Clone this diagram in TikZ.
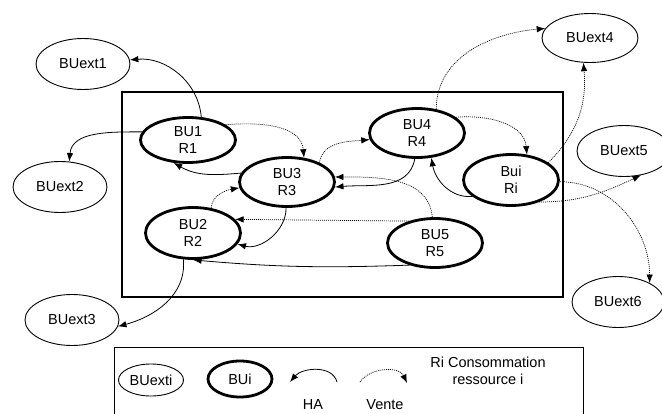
\documentclass[tikz,border=0pt]{standalone}
\usepackage{fontspec}
\setmainfont{Liberation Sans}
\usetikzlibrary{shapes.geometric,arrows.meta}

\begin{document}
\begin{tikzpicture}[x=1pt, y=1pt, >={Latex[length=8.5pt,width=6.5pt]},
        font=\fontsize{14.5}{17}\selectfont,
        bu/.style={ellipse, draw, line width=2.8pt, inner sep=0pt, align=center,
            minimum width=95pt, minimum height=49pt},
        ext/.style={ellipse, draw, line width=0.9pt, inner sep=0pt,
            minimum width=94pt, minimum height=51pt},
        ha/.style={->, line width=0.8pt},
        vente/.style={->, line width=0.7pt, dash pattern=on 1pt off 1pt}]
        \useasboundingbox (0,0) rectangle (662,-413);

        % 外框
        \draw[line width=2.6pt] (122,-92) rectangle (563,-297);

        % 内部 BU
        \node[bu, minimum height=45pt] (BU1) at (188,-140) {BU1\\R1};
        \node[bu] (BU3) at (287,-182) {BU3\\R3};
        \node[bu] (BU4) at (417,-133) {BU4\\R4};
        \node[bu, minimum height=51pt] (BUi) at (511,-180) {Bui\\Ri};
        \node[bu, minimum height=51pt] (BU2) at (193,-233) {BU2\\R2};
        \node[bu] (BU5) at (435,-243) {BU5\\R5};

        % 外部 BU
        \node[ext] (E1) at (83,-64) {BUext1};
        \node[ext] (E2) at (60,-187) {BUext2};
        \node[ext] (E3) at (72,-320) {BUext3};
        \node[ext, minimum width=96pt, minimum height=49pt] (E4) at (590,-38) {BUext4};
        \node[ext] (E5) at (624,-151) {BUext5};
        \node[ext, minimum width=92pt] (E6) at (618,-302) {BUext6};

        % HA
        \draw[ha] (BU1.60) to[out=95, in=5] (E1.5);
        \draw[ha] (BU1.170) to[out=180, in=85] (E2.70);
        \draw[ha] (BU3.169) to[out=185, in=-30] (BU1.238);
        \draw[ha] (BU3.268) to[out=-90, in=-15] (BU2.-14);
        \draw[ha] (BU4.265) to[out=-100, in=5] (BU3.-6);
        \draw[ha] (BUi.203) to[out=185, in=-80] (BU4.-60);
        \draw[ha] (BU5.221) to[out=182, in=-5] (BU2.270);
        \draw[ha] (BU2.250) to[out=-85, in=15] (E3.-8);

        % Vente
        \draw[vente] (BU1.22) to[out=5, in=95] (BU3.55);
        \draw[vente] (BU2.54) to[out=85, in=190] (BU3.187);
        \draw[vente] (BU3.31) to[out=80, in=185] (BU4.188);
        \draw[vente] (BU4.51) to[out=90, in=185] (E4.168);
        \draw[vente] (BU4.22) to[out=5, in=95] (BUi.58);
        \draw[vente] (BUi.25) to[out=45, in=-85] (E4.255);
        \draw[vente] (BUi.-2) to[out=0, in=90] (E6.31);
        \draw[vente] (BUi.-38) to[out=0, in=205] (E5.-55);
        \draw[vente] (BU5.96) to[out=95, in=0] (BU3.6);
        \draw[vente] (BU5.140) -- (BU2.18);

        % 图例
        \draw[line width=0.8pt] (114,-347) rectangle (583,-430);
        \node[ext, minimum width=65pt, minimum height=32pt] (LE) at (151,-380) {BUexti};
        \node[bu, minimum width=64pt, minimum height=36pt] (LB) at (240,-379) {BUi};
        \coordinate (HA1) at (337,-382);
        \coordinate (HA2) at (290,-382);
        \draw[ha] (HA1) to[out=105, in=50] (HA2);
        \node (LHA) at (313,-405) {HA};
        \coordinate (V1) at (360,-382);
        \coordinate (V2) at (407,-383);
        \draw[vente] (V1) to[out=55, in=115] (V2);
        \node (LV) at (385,-405) {Vente};
        \node[align=center] (LR) at (488,-371) {Ri Consommation\\ressource i};

    \end{tikzpicture}
\end{document}
